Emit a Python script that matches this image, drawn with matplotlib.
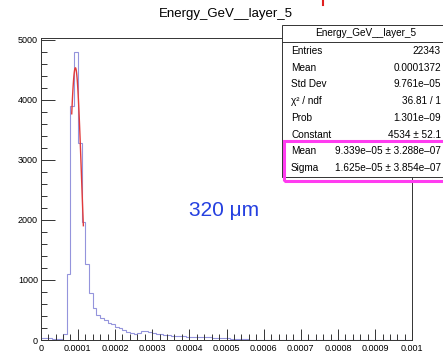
import numpy as np
import matplotlib
matplotlib.use("Agg")
import matplotlib.pyplot as plt
from matplotlib.patches import Rectangle
from matplotlib.lines import Line2D

plt.rcParams['font.family'] = ['Liberation Sans', 'DejaVu Sans']

# ---- data ----
bin_lo, bin_hi, n_bins = 0.0, 0.001, 100
counts = [
    30, 30, 25, 20, 15, 15, 100, 1100, 3900, 4790,
    3280, 1960, 1267, 780, 530, 420, 365, 330, 289, 261,
    222, 195, 167, 139, 111, 105, 122, 145, 150, 133,
    117, 105, 95, 89, 83, 72, 70, 68, 60, 58,
    55, 52, 50, 48, 45, 42, 40, 35, 32, 30,
    28, 22, 18, 15, 12, 10, 5, 4, 3, 2,
    2, 1, 1, 1, 0, 0, 0, 0, 0, 0,
    0, 0, 0, 0, 0, 0, 0, 0, 0, 0,
    0, 0, 0, 0, 0, 0, 0, 0, 0, 0,
    0, 0, 0, 0, 0, 0, 0, 0, 0, 0,
]
fit_const, fit_mean, fit_sigma = 4534.0, 9.339e-05, 1.625e-05
fit_range = (8.35e-05, 1.148e-04)

x_ticks = [0, 0.0001, 0.0002, 0.0003, 0.0004, 0.0005, 0.0006, 0.0007, 0.0008, 0.0009, 0.001]
x_ticklabels = ["0", "0.0001", "0.0002", "0.0003", "0.0004", "0.0005",
                "0.0006", "0.0007", "0.0008", "0.0009", "0.001"]
y_ticks = [0, 1000, 2000, 3000, 4000, 5000]
y_ticklabels = ["0", "1000", "2000", "3000", "4000", "5000"]

title = "Energy_GeV__layer_5"
stats_title = "Energy_GeV__layer_5"
stats_rows = [
    ("Entries", "22343"),
    ("Mean", "0.0001372"),
    ("Std Dev", "9.761e\u201305"),
    ("\u03c7\u00b2 / ndf", "36.81 / 1"),
    ("Prob", "1.301e\u201309"),
    ("Constant", "4534 \u00b1 52.1"),
    ("Mean", "9.339e\u201305 \u00b1 3.288e\u201307"),
    ("Sigma", "1.625e\u201305 \u00b1 3.854e\u201307"),
]
annotation = "320 \u03bcm"

# ---- figure ----
W, H = 443, 357
fig = plt.figure(figsize=(W / 100, H / 100), dpi=100)

def fx(px):
    return px / W

def fy(py):
    return 1 - py / H

ax_l, ax_r, ax_t, ax_b = 40.7, 412.3, 38.0, 340.0
ax = fig.add_axes([fx(ax_l), fy(ax_b), fx(ax_r) - fx(ax_l), fy(ax_t) - fy(ax_b)])

edges = np.linspace(bin_lo, bin_hi, n_bins + 1)
ax.stairs(counts, edges, color='#9494dc', lw=0.8, baseline=0)

xf = np.linspace(fit_range[0], fit_range[1], 60)
yf = fit_const * np.exp(-0.5 * ((xf - fit_mean) / fit_sigma) ** 2)
ax.plot(xf, yf, color='#e23a3a', lw=1.0)

ax.set_xlim(bin_lo, bin_hi)
ax.set_ylim(0, 5030)
ax.set_xticks(x_ticks)
ax.set_xticklabels(x_ticklabels)
ax.set_yticks(y_ticks)
ax.set_yticklabels(y_ticklabels)
ax.set_xticks(np.arange(0, 0.001 + 1e-12, 0.00002), minor=True)
ax.set_yticks(np.arange(0, 5001, 200), minor=True)
ax.tick_params(axis='both', which='major', direction='in', labelsize=6.5, width=0.7, color='#333333')
ax.tick_params(axis='x', which='major', length=8, pad=3)
ax.tick_params(axis='y', which='major', length=10, pad=2)
ax.tick_params(axis='both', which='minor', direction='in', length=4, width=0.7, color='#333333')
for s in ax.spines.values():
    s.set_linewidth(0.7)
    s.set_color('#333333')

fig.text(fx(226), fy(14), title, ha='center', va='center', fontsize=9.5)

ax.text(0.000494, 2160, annotation, ha='center', va='center', fontsize=15, color='#2540e0')

# stats box
box_l, box_t, box_b = 282, 25, 177
fig.patches.append(Rectangle((fx(box_l), fy(box_b)), fx(470) - fx(box_l), fy(box_t) - fy(box_b),
                             transform=fig.transFigure, facecolor='white', edgecolor='#333333',
                             lw=0.7, zorder=5))
fig.lines.append(Line2D([fx(box_l), fx(450)], [fy(42), fy(42)], transform=fig.transFigure,
                        color='#333333', lw=0.7, zorder=6))
fig.text(fx(366), fy(33.5), stats_title, ha='center', va='center', fontsize=7.2, zorder=7)
row_y0, row_dy = 51, 16.7
for i, (lab, val) in enumerate(stats_rows):
    yy = fy(row_y0 + i * row_dy)
    fig.text(fx(291), yy, lab, ha='left', va='center', fontsize=7.2, zorder=7)
    fig.text(fx(441), yy, val, ha='right', va='center', fontsize=7.2, zorder=7)

# highlight box
fig.patches.append(Rectangle((fx(284), fy(180.5)), fx(470) - fx(284), fy(141.5) - fy(180.5),
                             transform=fig.transFigure, facecolor='none', edgecolor='#ff3cf0',
                             lw=2.2, zorder=8))
# small red mark at top
fig.lines.append(Line2D([fx(323), fx(323)], [fy(0), fy(5)], transform=fig.transFigure,
                        color='#e02020', lw=1.5, zorder=8))

fig.savefig("out.png", dpi=100)
